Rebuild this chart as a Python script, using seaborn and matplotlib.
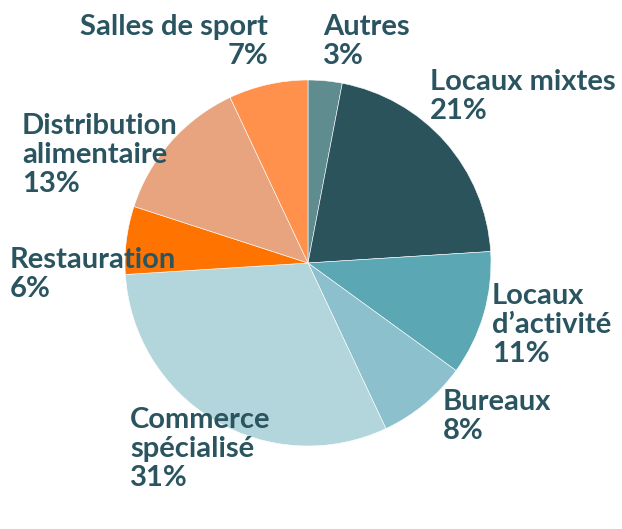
import matplotlib
matplotlib.use("Agg")
import matplotlib.pyplot as plt
import seaborn as sns

# Répartition par type d'actif (sens horaire depuis midi)
categories = [
    "Autres",
    "Locaux mixtes",
    "Locaux\nd\u2019activité",
    "Bureaux",
    "Commerce\nspécialisé",
    "Restauration",
    "Distribution\nalimentaire",
    "Salles de sport",
]
shares = [3, 21, 11, 8, 31, 6, 13, 7]
colors = [
    "#5E8C8F", "#2B535C", "#5CA7B4", "#8CC0CD",
    "#B3D5DC", "#FF7300", "#E8A47F", "#FF914D",
]

# label anchors in pixel coords (x, y from top), alignment
label_pos = [
    (323, 14, "left"),
    (430, 69, "left"),
    (492, 283, "left"),
    (443, 389, "left"),
    (130, 407, "left"),
    (10, 247, "left"),
    (22, 113, "left"),
    (268, 14, "right"),
]

sns.set_theme(style="white")
plt.rcParams["font.family"] = ["Lato", "DejaVu Sans"]

W, H = 622, 529
fig = plt.figure(figsize=(W / 100, H / 100), dpi=100)
ax = fig.add_axes([0, 0, 1, 1])

ax.pie(
    shares,
    colors=colors,
    startangle=90,
    counterclock=False,
    center=(308, H - 263),
    radius=183,
    wedgeprops=dict(linewidth=0.4, edgecolor="white"),
    frame=True,
)
ax.set_xlim(0, W)
ax.set_ylim(0, H)
ax.set_aspect("equal")
ax.axis("off")

txt_color = "#2A5560"
for cat, val, (x, y, ha) in zip(categories, shares, label_pos):
    ax.text(
        x, H - y, f"{cat}\n{val}%",
        ha=ha, va="top", fontsize=21, fontweight="bold",
        color=txt_color, linespacing=1.15, multialignment=ha,
    )

fig.savefig("out.png", dpi=100, facecolor="white")
plt.close(fig)
